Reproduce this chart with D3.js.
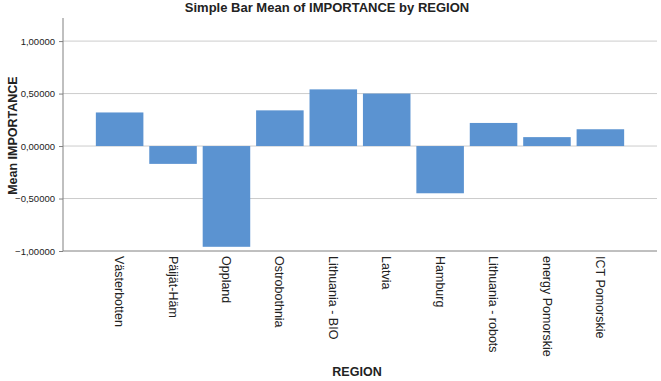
<!DOCTYPE html>
<html lang="en">
<head>
<meta charset="UTF-8">
<title>Simple Bar Mean of IMPORTANCE by REGION</title>
<style>
  body { margin: 0; background: #fff; font-family: "Liberation Sans", Arial, sans-serif; }
  .grid line { stroke: #cccccc; stroke-width: 1px; }
  .title { font-weight: bold; font-size: 13px; fill: #222; }
  .axis-title { font-weight: bold; font-size: 12.5px; fill: #222; }
</style>
</head>
<body>
<div id="chart"></div>
<script src="https://d3js.org/d3.v7.min.js"></script>
<script>
  var regions = ["Västerbotten", "Päijät-Häm", "Oppland", "Ostrobothnia", "Lithuania - BIO",
                 "Latvia", "Hamburg", "Lithuania - robots", "energy Pomorskie", "ICT Pomorskie"];
  var meanImportance = [0.32, -0.17, -0.96, 0.34, 0.54, 0.50, -0.45, 0.22, 0.085, 0.16];
  var yTicks = [-1, -0.5, 0, 0.5, 1];

  var width = 661, height = 381;
  var margin = {top: 18, right: 4, bottom: 130, left: 63};

  var svg = d3.select("#chart").append("svg")
      .attr("width", width)
      .attr("height", height)
      .style("font-family", "'Liberation Sans', Arial, sans-serif");

  var x = d3.scaleBand()
      .domain(regions)
      .range([margin.left, width - margin.right])
      .paddingInner(0.11)
      .paddingOuter(0.615);

  var y = d3.scaleLinear()
      .domain([-1, 1.22])
      .range([height - margin.bottom, margin.top]);

  // Gridlines
  svg.append("g")
      .attr("class", "grid")
    .selectAll("line")
      .data(yTicks.filter(function(d) { return d > -1; }))
    .enter().append("line")
      .attr("x1", margin.left)
      .attr("x2", width - margin.right)
      .attr("y1", function(d) { return y(d); })
      .attr("y2", function(d) { return y(d); });

  // Bars
  svg.append("g")
    .selectAll("rect")
      .data(meanImportance)
    .enter().append("rect")
      .attr("x", function(d, i) { return x(regions[i]); })
      .attr("width", x.bandwidth())
      .attr("y", function(d) { return y(Math.max(0, d)); })
      .attr("height", function(d) { return Math.abs(y(d) - y(0)); })
      .attr("fill", "#5b93d1");

  // Y axis
  var fmt = function(d) { return d3.format(".5f")(d).replace(".", ","); };
  var yAxis = svg.append("g")
      .attr("transform", "translate(" + margin.left + ",0)")
      .call(d3.axisLeft(y).tickValues(yTicks).tickFormat(fmt).tickSize(4).tickPadding(4));
  yAxis.select(".domain").attr("stroke", "#808080").attr("d", "M0," + margin.top + "V" + y(-1));
  yAxis.selectAll(".tick line").attr("stroke", "#808080");
  yAxis.selectAll(".tick text").attr("fill", "#222").style("font-size", "9.5px");

  // X axis
  var xAxis = svg.append("g")
      .attr("transform", "translate(0," + y(-1) + ")")
      .call(d3.axisBottom(x).tickSize(0).tickPadding(0));
  xAxis.select(".domain").attr("stroke", "#808080").attr("d", "M" + margin.left + ",0H" + (width - margin.right));
  xAxis.selectAll(".tick text")
      .attr("fill", "#222")
      .style("font-size", "12.5px")
      .attr("transform", "rotate(90)")
      .attr("x", 5)
      .attr("y", 0)
      .attr("dy", "0.35em")
      .style("text-anchor", "start");

  // Titles
  svg.append("text")
      .attr("class", "title")
      .attr("x", 327)
      .attr("y", 12)
      .attr("text-anchor", "middle")
      .text("Simple Bar Mean of IMPORTANCE by REGION");

  svg.append("text")
      .attr("class", "axis-title")
      .attr("transform", "translate(17," + y(0.1) + ") rotate(-90)")
      .attr("text-anchor", "middle")
      .text("Mean IMPORTANCE");

  svg.append("text")
      .attr("class", "axis-title")
      .attr("x", 357)
      .attr("y", 376)
      .attr("text-anchor", "middle")
      .text("REGION");
</script>
</body>
</html>
